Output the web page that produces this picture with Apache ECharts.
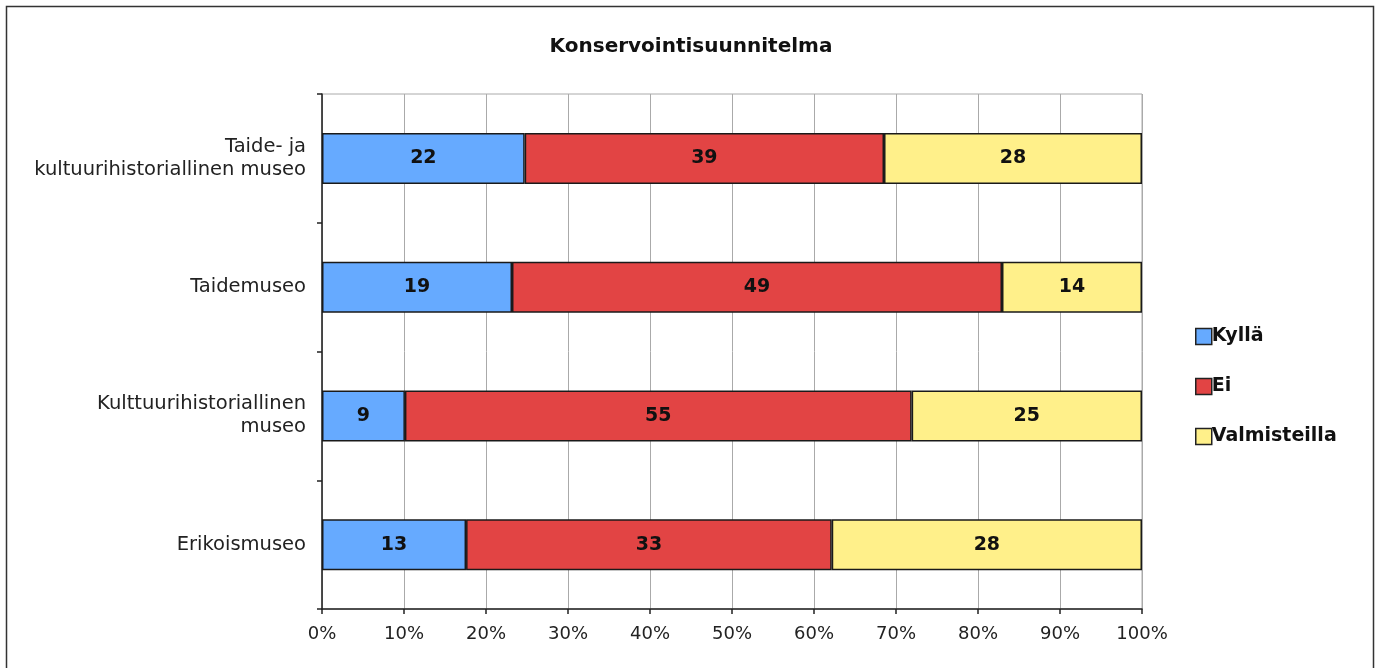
<!DOCTYPE html>
<html>
<head>
<meta charset="utf-8">
<script src="https://cdn.jsdelivr.net/npm/echarts@6/dist/echarts.min.js"></script>
<style>
  html, body { margin: 0; padding: 0; background: #fff; }
  #chart { width: 1380px; height: 668px; }
</style>
</head>
<body>
<div id="chart"></div>
<script>
var categories = ['Taide- ja\nkultuurihistoriallinen museo', 'Taidemuseo', 'Kulttuurihistoriallinen\nmuseo', 'Erikoismuseo'];
var kylla = [22, 19, 9, 13];
var ei = [39, 49, 55, 33];
var valmisteilla = [28, 14, 25, 28];
var xTicks = ['0%', '10%', '20%', '30%', '40%', '50%', '60%', '70%', '80%', '90%', '100%'];

// sum per category, bars are drawn as share of 100%
var totals = [];
for (var i = 0; i < categories.length; i++) {
  totals.push(kylla[i] + ei[i] + valmisteilla[i]);
}
function toPct(arr) {
  var out = [];
  for (var i = 0; i < arr.length; i++) {
    out.push({ value: arr[i] / totals[i] * 100, raw: arr[i] });
  }
  return out;
}

var font = 'Verdana, "DejaVu Sans", sans-serif';
var colors = ['#66aaff', '#e24444', '#fff08a'];

function makeSerie(name, arr) {
  return {
    name: name,
    type: 'bar',
    stack: 'all',
    barWidth: 51,
    data: toPct(arr),
    itemStyle: { borderColor: '#1a1a1a', borderWidth: 1.5 },
    label: {
      show: true,
      position: 'inside',
      color: '#111',
      fontFamily: font,
      fontWeight: 'bold',
      fontSize: 19,
      formatter: function (p) { return p.data.raw; }
    }
  };
}

var myChart = echarts.init(document.getElementById('chart'));
var option = {
  animation: false,
  color: colors,
  title: {
    text: 'Konservointisuunnitelma',
    left: 686, top: 32, textAlign: 'center',
    textStyle: { fontFamily: font, fontSize: 20, fontWeight: 'bold', color: '#111' }
  },
  legend: {
    orient: 'vertical',
    left: 1190, top: 322,
    itemWidth: 16, itemHeight: 16, itemGap: 31,
    icon: 'rect',
    itemStyle: { borderColor: '#222', borderWidth: 1.5 },
    textStyle: { fontFamily: font, fontSize: 19, fontWeight: 'bold', color: '#111', lineHeight: 16, padding: [0, 0, 0, -5] },
    data: ['Kyllä', 'Ei', 'Valmisteilla']
  },
  graphic: [{
    type: 'rect',
    shape: { x: 6.5, y: 6.5, width: 1367, height: 700 },
    style: { fill: 'none', stroke: '#333', lineWidth: 1.5 },
    silent: true
  }],
  grid: {
    left: 322, right: 238, top: 94, bottom: 59,
    show: true, borderColor: '#aaa', borderWidth: 1
  },
  xAxis: {
    type: 'value',
    min: 0, max: 100, interval: 10,
    axisLine: { show: true, lineStyle: { color: '#222', width: 1.5 } },
    axisTick: { show: true, length: 5, lineStyle: { color: '#222', width: 1.5 } },
    splitLine: { show: true, lineStyle: { color: '#aaa', width: 1 } },
    axisLabel: {
      fontFamily: font, fontSize: 18, color: '#222', margin: 16,
      formatter: function (v) { return xTicks[Math.round(v / 10)]; }
    }
  },
  yAxis: {
    type: 'category',
    inverse: true,
    data: categories,
    axisLine: { show: true, lineStyle: { color: '#222', width: 1.5 } },
    axisTick: { show: true, length: 5, lineStyle: { color: '#222', width: 1.5 } },
    splitLine: { show: false },
    axisLabel: {
      fontFamily: font, fontSize: 19.5, color: '#222', margin: 16,
      lineHeight: 23, align: 'right'
    }
  },
  series: [
    makeSerie('Kyllä', kylla),
    makeSerie('Ei', ei),
    makeSerie('Valmisteilla', valmisteilla)
  ]
};
myChart.setOption(option);
</script>
</body>
</html>
